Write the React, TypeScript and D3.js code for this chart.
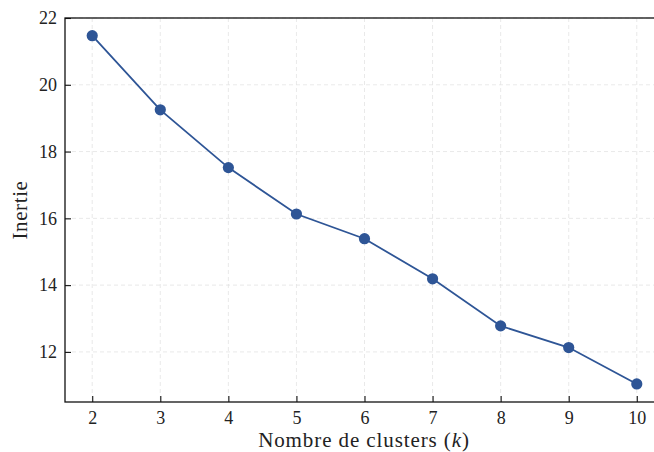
import { useEffect, useRef } from "react";
import * as d3 from "d3";

const kValues = [2, 3, 4, 5, 6, 7, 8, 9, 10];
const inertia = [21.47, 19.25, 17.52, 16.13, 15.39, 14.19, 12.78, 12.13, 11.04];
const yTicks = [12, 14, 16, 18, 20, 22];

const App = () => {
  const ref = useRef<SVGSVGElement>(null);

  useEffect(() => {
    const width = 654;
    const height = 452;
    const margin = { top: 18, right: -10, bottom: 50, left: 65 };
    const font = "'Liberation Serif', 'DejaVu Serif', serif";
    const color = "#2e5596";

    const svg = d3.select(ref.current);
    svg.selectAll("*").remove();

    const x = d3.scaleLinear()
      .domain([1.6, 10.4])
      .range([margin.left, width - margin.right]);
    const y = d3.scaleLinear()
      .domain([10.5, 22])
      .range([height - margin.bottom, margin.top]);

    // grille
    const grid = svg.append("g").attr("stroke", "#e3e3e3").attr("stroke-dasharray", "4,3").attr("stroke-width", 0.8);
    grid.selectAll(".gx").data(kValues).enter().append("line")
      .attr("x1", d => x(d)).attr("x2", d => x(d))
      .attr("y1", margin.top).attr("y2", height - margin.bottom);
    grid.selectAll(".gy").data(yTicks).enter().append("line")
      .attr("x1", margin.left).attr("x2", width - margin.right)
      .attr("y1", d => y(d)).attr("y2", d => y(d));

    // courbe
    const line = d3.line<number>()
      .x((_, i) => x(kValues[i]))
      .y(d => y(d));
    svg.append("path")
      .datum(inertia)
      .attr("d", line)
      .attr("fill", "none")
      .attr("stroke", color)
      .attr("stroke-width", 1.8);

    svg.selectAll(".pt").data(inertia).enter().append("circle")
      .attr("cx", (_, i) => x(kValues[i]))
      .attr("cy", d => y(d))
      .attr("r", 5.6)
      .attr("fill", color);

    // axes (ticks vers l'intérieur)
    const xAxis = svg.append("g")
      .attr("transform", `translate(0,${height - margin.bottom})`)
      .call(d3.axisBottom(x).tickValues(kValues).tickSize(-6).tickPadding(9).tickFormat(d3.format("d")));
    const yAxis = svg.append("g")
      .attr("transform", `translate(${margin.left},0)`)
      .call(d3.axisLeft(y).tickValues(yTicks).tickSize(-6).tickPadding(8).tickFormat(d3.format("d")));

    [xAxis, yAxis].forEach(a => {
      a.attr("font-family", font).attr("font-size", 18);
      a.select(".domain").remove();
      a.selectAll(".tick line").attr("stroke", "#111").attr("stroke-width", 1.1);
      a.selectAll(".tick text").style("font-family", font).style("font-size", "18px").attr("fill", "#222");
    });

    // cadre
    svg.append("rect")
      .attr("x", margin.left).attr("y", margin.top)
      .attr("width", width - margin.right - margin.left)
      .attr("height", height - margin.bottom - margin.top)
      .attr("fill", "none").attr("stroke", "#111").attr("stroke-width", 1.3);

    // titres des axes
    const xl = svg.append("text")
      .attr("x", 364).attr("y", 447)
      .attr("text-anchor", "middle")
      .attr("font-family", font).attr("font-size", 21).attr("letter-spacing", 0.9).attr("fill", "#222");
    xl.append("tspan").text("Nombre de clusters (");
    xl.append("tspan").attr("font-style", "italic").text("k");
    xl.append("tspan").text(")");

    svg.append("text")
      .attr("transform", `translate(27,${(margin.top + height - margin.bottom) / 2}) rotate(-90)`)
      .attr("text-anchor", "middle")
      .attr("font-family", font).attr("font-size", 21).attr("letter-spacing", 0.6).attr("fill", "#222")
      .text("Inertie");
  }, []);

  return <svg ref={ref} width={654} height={452} style={{ position: "absolute", left: 0, top: 0 }} />;
};

export default App;
